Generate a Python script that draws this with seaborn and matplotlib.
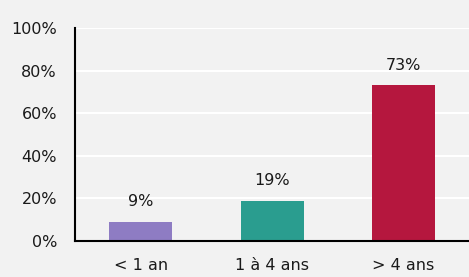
import matplotlib
matplotlib.use("Agg")
import matplotlib.pyplot as plt
import seaborn as sns
import pandas as pd

categories = ["< 1 an", "1 à 4 ans", "> 4 ans"]
values = [9, 19, 73]
colors = ["#8E7CC3", "#2A9D8F", "#B5173E"]
y_ticks = [0, 20, 40, 60, 80, 100]

df = pd.DataFrame({"cat": categories, "val": values})

sns.set_style("white")
plt.rcParams['font.family'] = ['DejaVu Sans']

fig = plt.figure(figsize=(4.69, 2.77), dpi=100, facecolor="#F2F2F2")
ax = fig.add_axes([0.16, 0.13, 0.846, 0.769])
ax.set_facecolor("#F2F2F2")

sns.barplot(data=df, x="cat", y="val", hue="cat", palette=colors,
            width=0.48, legend=False, ax=ax, saturation=1, linewidth=0)

for c in ax.containers:
    ax.bar_label(c, fmt="%d%%", padding=9, fontsize=11.5, color="#1a1a1a")

ax.set_ylim(0, 100)
ax.set_xlim(-0.5, 2.52)
ax.set_yticks(y_ticks)
ax.set_yticklabels([f"{t}%" for t in y_ticks])
ax.yaxis.grid(True, color="white", linewidth=1.5)
ax.set_axisbelow(True)
ax.set_xlabel("")
ax.set_ylabel("")

for s in ["top", "right"]:
    ax.spines[s].set_visible(False)
for s in ["left", "bottom"]:
    ax.spines[s].set_color("black")
    ax.spines[s].set_linewidth(1.5)

ax.tick_params(axis="y", direction="in", length=5, width=1.5, pad=13,
               labelsize=11.5, colors="black", labelcolor="#1a1a1a")
ax.tick_params(axis="x", length=0, pad=12, labelsize=11.5, labelcolor="#1a1a1a")

fig.savefig("out.png", dpi=100, facecolor=fig.get_facecolor())
